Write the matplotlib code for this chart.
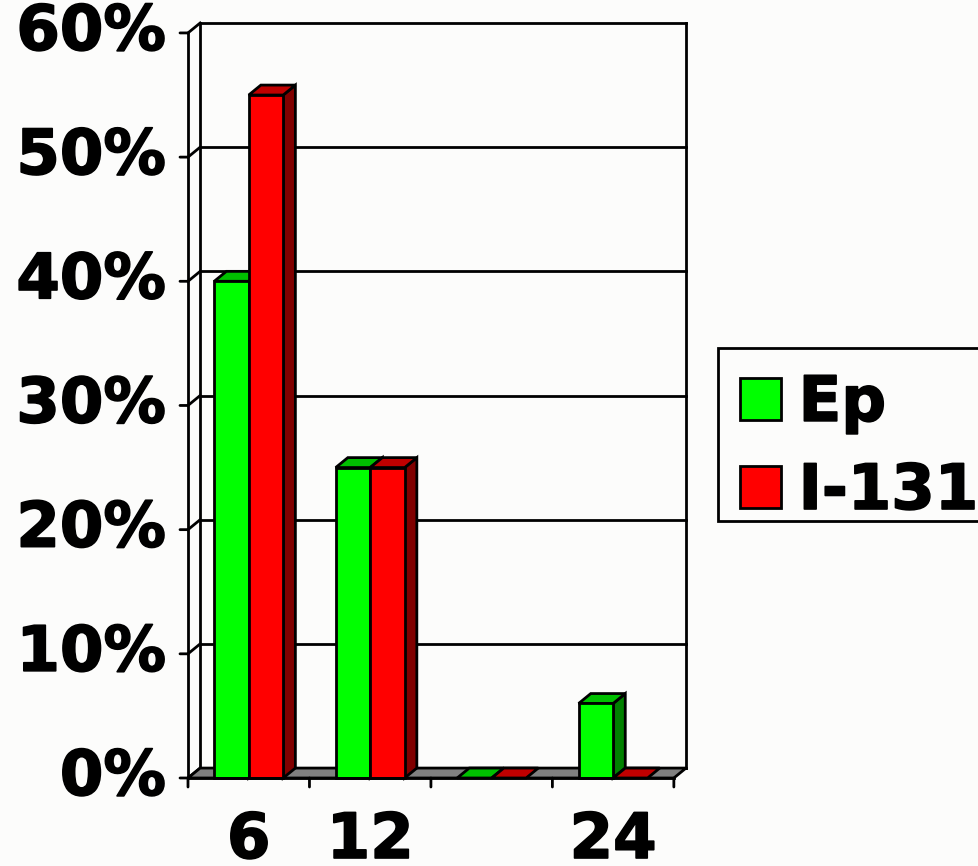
import matplotlib
matplotlib.use("Agg")
import matplotlib.pyplot as plt
import matplotlib.patheffects as pe
from matplotlib.patches import Polygon, Patch, Rectangle

# data
categories = ["6", "12", "", "24"]
series_names = ["Ep", "I-131"]
ep_values = [40, 25, 0, 6]
i131_values = [55, 25, 0, 0]
y_ticks = [0, 10, 20, 30, 40, 50, 60]

front_colors = ["#00ff00", "#ff0000"]
top_colors = ["#00c000", "#c00000"]
side_colors = ["#008000", "#800000"]

DX, DY = 0.1, 0.8        # depth offset of the back wall in data units
BAR_W = 0.284
LW = 2.0
BG = "#fcfcfb"
W, H = 979, 866

# slightly heavier glyphs than plain DejaVu bold
heavy = [pe.withStroke(linewidth=1.2, foreground="black")]
font = dict(fontsize=45, fontweight="bold", path_effects=heavy)

fig = plt.figure(figsize=(W / 100, H / 100), dpi=100, facecolor=BG)
ax = fig.add_axes([188 / W, 88 / H, 498 / W, 755 / H])
ax.set_facecolor(BG)
n = len(categories)
ax.set_xlim(0, n + DX)
ax.set_ylim(0, 60 + DY)
ax.axis("off")


def poly(pts, fc, z=2):
    ax.add_patch(Polygon(pts, closed=True, facecolor=fc, edgecolor="black",
                         linewidth=LW, joinstyle="miter", zorder=z, clip_on=False))


def line(xs, ys, z=1):
    ax.plot(xs, ys, color="black", linewidth=LW, zorder=z, clip_on=False,
            solid_capstyle="projecting")


# back wall, left wall and gridlines
for v in y_ticks:
    line([DX, n + DX], [v + DY, v + DY])
    line([0, DX], [v, v + DY])
line([DX, DX], [DY, 60 + DY])
line([n + DX, n + DX], [DY, 60 + DY])
line([0, 0], [0, 60], z=5)

# floor
poly([(0, 0), (n, 0), (n + DX, DY), (DX, DY)], "#808080", z=1.5)

# bars with faked depth
for i in range(n):
    for j, vals in enumerate([ep_values, i131_values]):
        v = vals[i]
        x0 = i + 0.5 - BAR_W + j * BAR_W
        x1 = x0 + BAR_W
        if v > 0:
            poly([(x1, 0), (x1 + DX, DY), (x1 + DX, v + DY), (x1, v)], side_colors[j], z=3)
        poly([(x0, v), (x1, v), (x1 + DX, v + DY), (x0 + DX, v + DY)], top_colors[j], z=3)
        if v > 0:
            ax.bar(x0, v, width=BAR_W, align="edge", color=front_colors[j],
                   edgecolor="black", linewidth=LW, zorder=3.5, clip_on=False)

# front axes with ticks
line([0, n], [0, 0], z=5)
for v in y_ticks:
    ax.annotate("", xy=(0, v), xytext=(-8, 0), textcoords="offset pixels",
                arrowprops=dict(arrowstyle="-", lw=LW, shrinkA=0, shrinkB=0))
    ax.annotate(f"{v}%", xy=(0, v), xytext=(-22, 0), textcoords="offset pixels",
                ha="right", va="center", **font)
for i in range(n + 1):
    ax.annotate("", xy=(i, 0), xytext=(0, -9), textcoords="offset pixels",
                arrowprops=dict(arrowstyle="-", lw=LW, shrinkA=0, shrinkB=0))
for i, lab in enumerate(categories):
    ax.annotate(lab, xy=(i + 0.5, 0), xytext=(0, -63), textcoords="offset pixels",
                ha="center", va="center", **font)

# legend: frame drawn separately so it can run off the right edge
fig.patches.append(Rectangle((718 / W, 1 - 521 / H), 300 / W, 173 / H,
                             transform=fig.transFigure, facecolor=BG,
                             edgecolor="black", linewidth=LW, zorder=0))
handles = [Patch(facecolor=front_colors[k], edgecolor="black", linewidth=LW)
           for k in range(2)]
leg = fig.legend(handles, series_names, loc="upper left",
                 bbox_to_anchor=(718 / W, 1 - 352 / H),
                 prop=dict(size=45, weight="bold"), frameon=False,
                 handlelength=0.66, handleheight=0.66, handletextpad=0.28,
                 borderpad=0.35, labelspacing=0.45, borderaxespad=0)
for t in leg.get_texts():
    t.set_path_effects(heavy)

fig.savefig("out.png", dpi=100, facecolor=BG)
